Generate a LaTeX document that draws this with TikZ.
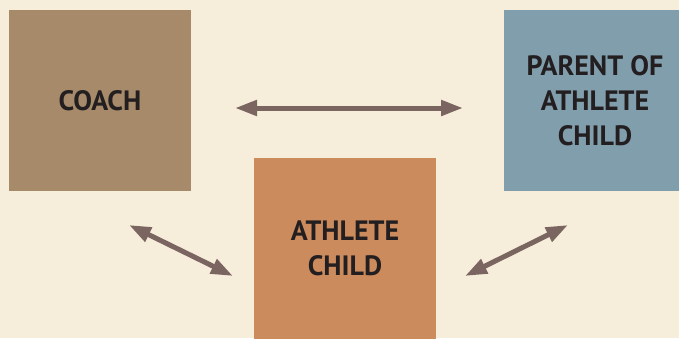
\documentclass[tikz,border=0pt]{standalone}
\usepackage{fontspec}
\setmainfont{PT Sans}
\usetikzlibrary{arrows.meta}
\definecolor{bgc}{HTML}{F6EEDA}
\definecolor{coachc}{HTML}{A78A69}
\definecolor{parentc}{HTML}{819EAD}
\definecolor{childc}{HTML}{CC8B5D}
\definecolor{arrc}{HTML}{7A6560}
\definecolor{txtc}{HTML}{231F20}
\tikzset{
  box/.style={minimum width=182pt, minimum height=181pt, inner sep=0pt, align=center,
    text=txtc, font=\bfseries\fontsize{28}{35}\selectfont},
  link/.style={draw=arrc, line width=5pt, {Triangle[length=22pt,width=15pt]}-{Triangle[length=22pt,width=15pt]}}
}
\begin{document}
\begin{tikzpicture}[x=1pt,y=-1pt]
\fill[bgc] (0,0) rectangle (679,338);
\useasboundingbox (0,0) rectangle (679,338);
\begin{scope}
\clip (0,0) rectangle (679,338);
\node[box, fill=coachc] (coach) at (100,100.5) {COACH};
\node[box, fill=parentc] (parent) at (595,100.5) {PARENT OF\\ATHLETE\\CHILD};
\node[box, fill=childc] (child) at (345,248.5) {ATHLETE\\CHILD};
\end{scope}
\coordinate (h1) at (235,108);
\coordinate (h2) at (463,108);
\coordinate (l1) at (129,225);
\coordinate (l2) at (233,276);
\coordinate (r1) at (465,276);
\coordinate (r2) at (568,225);
\draw[link] (h1) -- (h2);
\draw[link] (l1) -- (l2);
\draw[link] (r1) -- (r2);
\end{tikzpicture}
\end{document}
